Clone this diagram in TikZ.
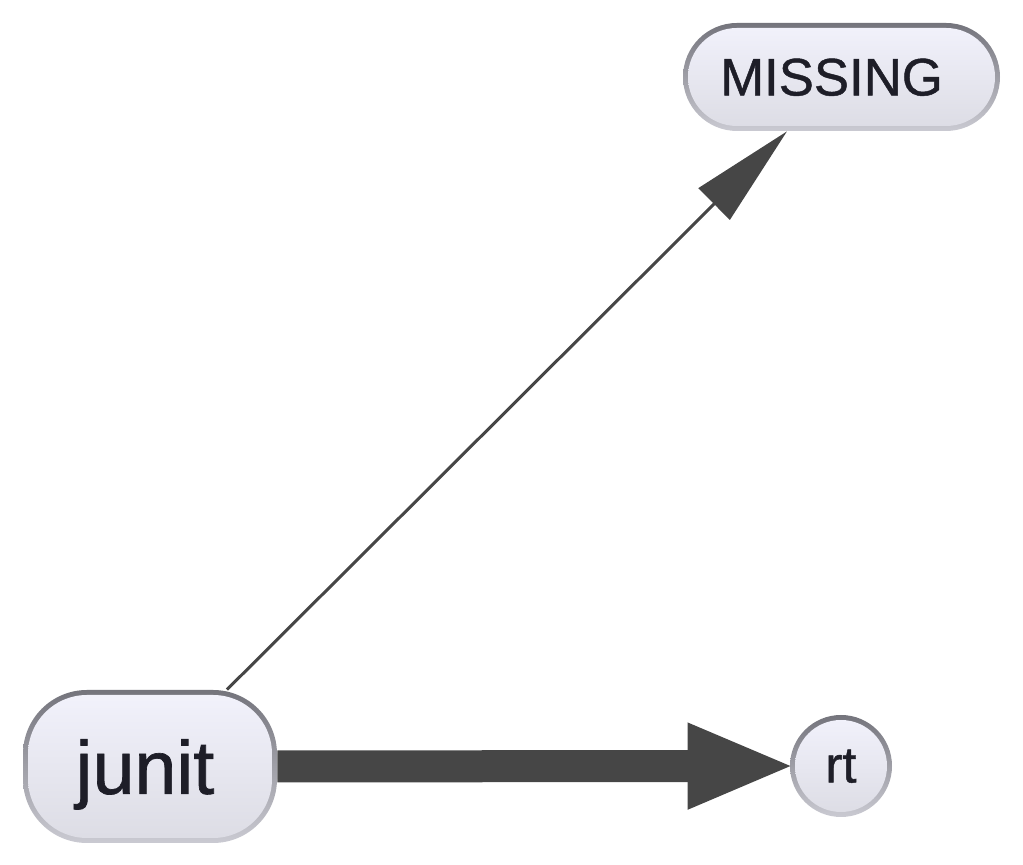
\documentclass[tikz,border=0pt]{standalone}
\usepackage{fontspec}
\setmainfont{Liberation Sans}[FakeBold=0.9]
\usetikzlibrary{arrows.meta, calc}

\definecolor{rimtop}{HTML}{74747C}
\definecolor{rimbot}{HTML}{CACAD2}
\definecolor{filltop}{HTML}{F2F2FC}
\definecolor{fillbot}{HTML}{DCDCE4}
\definecolor{inktext}{HTML}{1E1E28}
\definecolor{edgegray}{HTML}{464646}

\tikzset{
  pkg/.style={top color=rimtop, bottom color=rimbot, text=inktext, inner sep=0pt, text depth=0pt},
  pkgbox/.style={pkg, rounded corners=#1,
    path picture={\shade[top color=filltop, bottom color=fillbot, rounded corners=#1-0.1cm]
      ($(path picture bounding box.south west)+(0.1,0.1)$) rectangle
      ($(path picture bounding box.north east)-(0.1,0.1)$);}},
  pkgdot/.style={pkg, circle,
    path picture={\shade[top color=filltop, bottom color=fillbot]
      (path picture bounding box.center) circle (#1);}},
  dep/.style={draw=edgegray, line width=0.06cm, -{Triangle[length=2.06cm, width=0.88cm]}},
  heavydep/.style={draw=edgegray, line width=0.64cm, shorten >=-0.12cm,
    -{Triangle[length=2.16cm, width=1.56cm]}}
}

\begin{document}
\begin{tikzpicture}
  \useasboundingbox (0,0) rectangle (20.46,17.3);
  \node[pkgbox=1.08cm, minimum width=6.34cm, minimum height=2.16cm] (MISSING) at (16.83,15.76)
    {\fontsize{30}{36}\selectfont MISSING\kern0.4cm};
  \node[pkgbox=1.28cm, minimum width=5.08cm, minimum height=3.06cm] (junit) at (3.0,1.97)
    {\fontsize{43}{50}\selectfont junit\kern0.2cm};
  \node[pkgdot=0.92cm, minimum size=2.04cm] (rt) at (16.82,1.98)
    {\fontsize{29}{34}\selectfont rt};
  \draw[dep] (junit) -- (MISSING);
  \draw[heavydep] (junit) -- (rt);
\end{tikzpicture}
\end{document}
